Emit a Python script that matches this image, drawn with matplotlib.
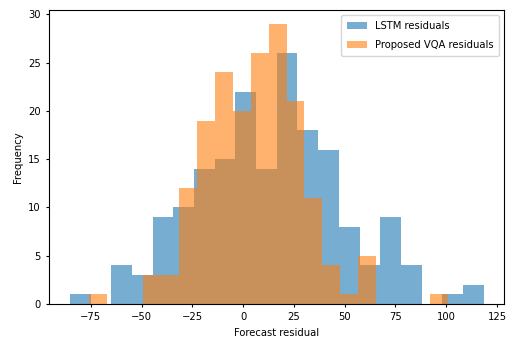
import numpy as np
import matplotlib
matplotlib.use("Agg")
import matplotlib.pyplot as plt

# counts per bin (20 bins each)
lstm_counts = [1, 0, 4, 3, 9, 10, 14, 15, 22, 14, 26, 18, 16, 8, 4, 9, 4, 0, 1, 2]
vqa_counts = [1, 0, 0, 3, 3, 12, 19, 24, 20, 26, 29, 21, 11, 4, 1, 5, 0, 0, 0, 1]
lstm_range = (-85.3, 118.4)
vqa_range = (-75.8, 100.8)
n_bins = 20

lstm_edges = np.linspace(lstm_range[0], lstm_range[1], n_bins + 1)
vqa_edges = np.linspace(vqa_range[0], vqa_range[1], n_bins + 1)
lstm_mid = (lstm_edges[:-1] + lstm_edges[1:]) / 2
vqa_mid = (vqa_edges[:-1] + vqa_edges[1:]) / 2

fs = 7.2
fig = plt.figure(figsize=(5.07, 3.41), dpi=100)
ax = fig.add_axes([0.0972, 0.1085, 0.8975, 0.8622])

ax.hist(lstm_mid, bins=lstm_edges, weights=lstm_counts, alpha=0.6, label='LSTM residuals')
ax.hist(vqa_mid, bins=vqa_edges, weights=vqa_counts, alpha=0.6, label='Proposed VQA residuals')

ax.set_xlabel('Forecast residual', fontsize=fs)
ax.set_ylabel('Frequency', fontsize=fs)
ax.tick_params(labelsize=fs, length=2.5)
ax.legend(fontsize=fs, loc='upper right', labelspacing=0.9, borderpad=0.6)

fig.savefig('out.png', dpi=100)
